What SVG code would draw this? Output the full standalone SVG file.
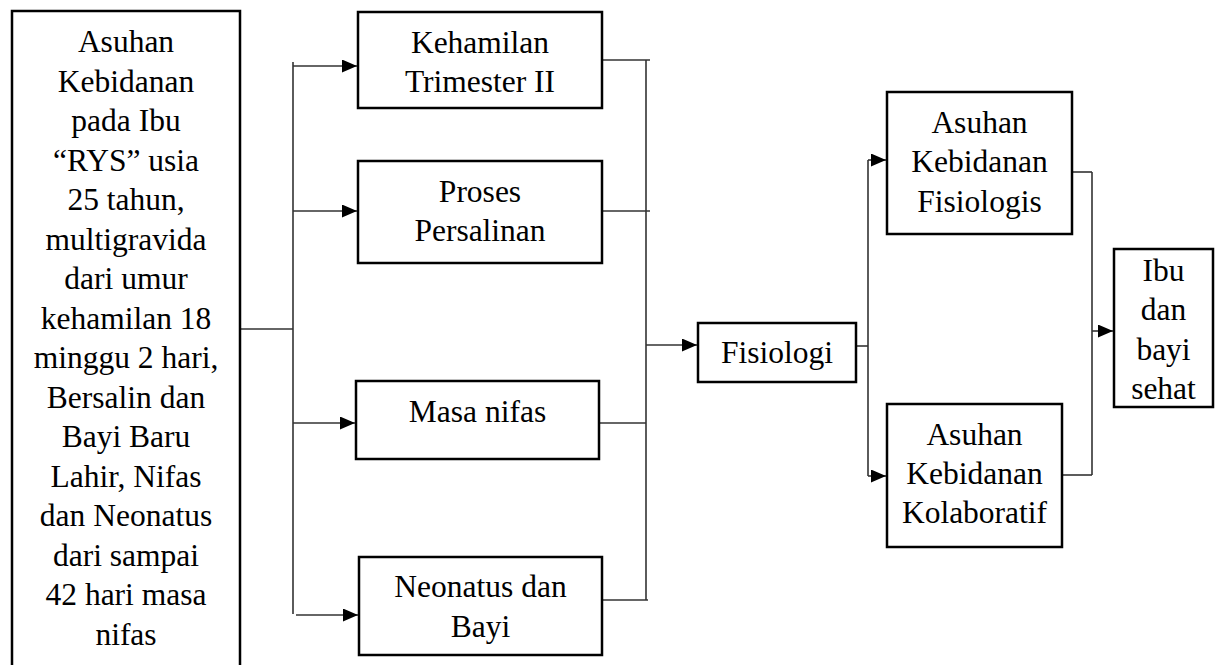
<svg xmlns="http://www.w3.org/2000/svg" width="1215" height="665" viewBox="0 0 1215 665">
<style>
.box{fill:#fff;stroke:#000;stroke-width:2.5}
.t{font-size:31.5px;fill:#000;text-anchor:middle}
.c{fill:none;stroke:#333;stroke-width:1.6}
</style>
<defs>
<marker id="ah" markerUnits="userSpaceOnUse" markerWidth="15" markerHeight="13" refX="15" refY="6.5" orient="auto">
<path d="M0,0 L15,6.5 L0,13 z" fill="#000"/>
</marker>
</defs>
<rect width="1215" height="665" fill="#fff"/>
<g id="connectors">
<path class="c" d="M240,329 H293"/>
<path class="c" d="M293,62 V614"/>
<path class="c" d="M293,66 H357" marker-end="url(#ah)"/>
<path class="c" d="M293,211 H357" marker-end="url(#ah)"/>
<path class="c" d="M293,423 H355" marker-end="url(#ah)"/>
<path class="c" d="M296,615 H358" marker-end="url(#ah)"/>
<path class="c" d="M602,60 H650"/>
<path class="c" d="M602,211 H650"/>
<path class="c" d="M599,423 H646"/>
<path class="c" d="M602,600 H648"/>
<path class="c" d="M646,60 V600"/>
<path class="c" d="M646,345 H697" marker-end="url(#ah)"/>
<path class="c" d="M856,346 H868"/>
<path class="c" d="M868,160 V476"/>
<path class="c" d="M868,160 H886" marker-end="url(#ah)"/>
<path class="c" d="M868,476 H886" marker-end="url(#ah)"/>
<path class="c" d="M1072,172 H1092"/>
<path class="c" d="M1062,475 H1092"/>
<path class="c" d="M1092,172 V475"/>
<path class="c" d="M1092,331 H1113" marker-end="url(#ah)"/>
</g>
<g font-family="Liberation Serif, DejaVu Serif, serif">
<g id="n-main">
<path class="box" d="M12,680 V11 H240 V680"/>
<text class="t" x="126" y="52">Asuhan</text>
<text class="t" x="126" y="91.5">Kebidanan</text>
<text class="t" x="126" y="131">pada Ibu</text>
<text class="t" x="126" y="170.5">“RYS” usia</text>
<text class="t" x="126" y="210">25 tahun,</text>
<text class="t" x="126" y="249.5">multigravida</text>
<text class="t" x="126" y="289">dari umur</text>
<text class="t" x="126" y="328.5">kehamilan 18</text>
<text class="t" x="126" y="368">minggu 2 hari,</text>
<text class="t" x="126" y="407.5">Bersalin dan</text>
<text class="t" x="126" y="447">Bayi Baru</text>
<text class="t" x="126" y="486.5">Lahir, Nifas</text>
<text class="t" x="126" y="526">dan Neonatus</text>
<text class="t" x="126" y="565.5">dari sampai</text>
<text class="t" x="126" y="605">42 hari masa</text>
<text class="t" x="126" y="644.5">nifas</text>
</g>
<g id="n-kehamilan">
<rect class="box" x="358" y="12" width="244" height="96"/>
<text class="t" x="480" y="53">Kehamilan</text>
<text class="t" x="480" y="92">Trimester II</text>
</g>
<g id="n-proses">
<rect class="box" x="358" y="161" width="244" height="102"/>
<text class="t" x="480" y="202">Proses</text>
<text class="t" x="480" y="241">Persalinan</text>
</g>
<g id="n-nifas">
<rect class="box" x="356" y="381" width="243" height="78"/>
<text class="t" x="477.5" y="422">Masa nifas</text>
</g>
<g id="n-neonatus">
<rect class="box" x="359" y="557" width="243" height="98"/>
<text class="t" x="480.5" y="597">Neonatus dan</text>
<text class="t" x="480.5" y="637">Bayi</text>
</g>
<g id="n-fisiologi">
<rect class="box" x="698" y="323" width="158" height="59"/>
<text class="t" x="777" y="363">Fisiologi</text>
</g>
<g id="n-fisiologis">
<rect class="box" x="887" y="92" width="185" height="142"/>
<text class="t" x="979.5" y="133">Asuhan</text>
<text class="t" x="979.5" y="172">Kebidanan</text>
<text class="t" x="979.5" y="212">Fisiologis</text>
</g>
<g id="n-kolaboratif">
<rect class="box" x="887" y="404" width="175" height="143"/>
<text class="t" x="974.5" y="445">Asuhan</text>
<text class="t" x="974.5" y="484">Kebidanan</text>
<text class="t" x="974.5" y="523">Kolaboratif</text>
</g>
<g id="n-ibu">
<rect class="box" x="1114" y="249" width="99" height="158"/>
<text class="t" x="1163.5" y="281">Ibu</text>
<text class="t" x="1163.5" y="320">dan</text>
<text class="t" x="1163.5" y="360">bayi</text>
<text class="t" x="1163.5" y="399">sehat</text>
</g>
</g>
</svg>
